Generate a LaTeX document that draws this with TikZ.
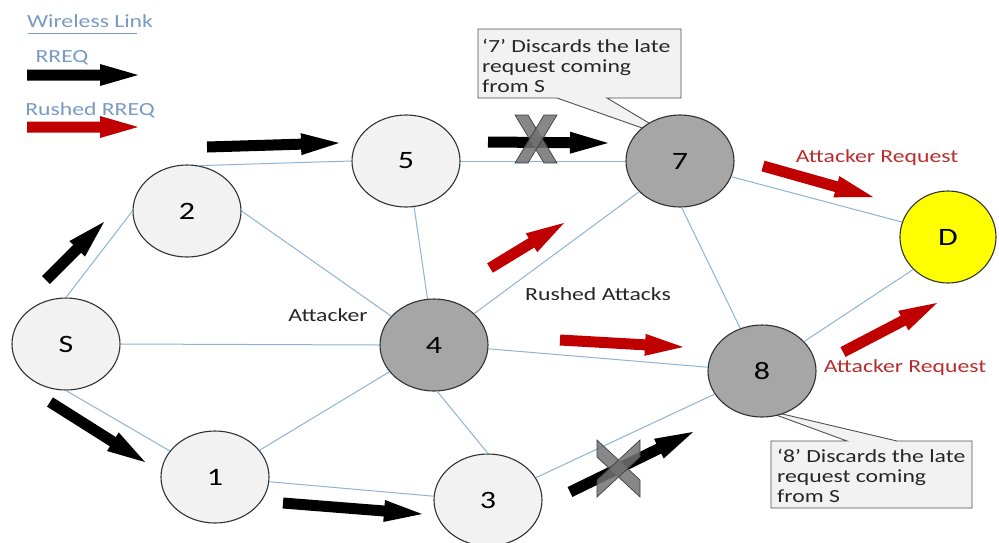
\documentclass[tikz,border=0pt]{standalone}
\usepackage{fontspec}
\setmainfont{Carlito}[FakeStretch=1.28]
\usetikzlibrary{shapes.geometric,calc}

\definecolor{linkc}{RGB}{141,180,214}
\definecolor{legc}{RGB}{120,155,195}
\definecolor{reda}{RGB}{192,0,0}
\definecolor{redt}{RGB}{185,45,45}
\definecolor{lightn}{RGB}{242,242,242}
\definecolor{darkn}{RGB}{166,166,166}
\definecolor{yeln}{RGB}{255,255,0}
\definecolor{nodeline}{RGB}{50,50,50}
\definecolor{callfill}{RGB}{242,242,242}
\definecolor{callline}{RGB}{80,80,80}
\definecolor{xfill}{RGB}{115,115,115}

% block arrow: colour, tail coordinate, tip coordinate
\newcommand\fatarrow[3]{%
  \coordinate (hb) at ($(#3)!38pt!(#2)$);
  \fill[#1] ($(#2)!5.5pt!90:(#3)$) -- ($(hb)!5.5pt!90:(#3)$) --
    ($(hb)!11pt!90:(#3)$) -- (#3) -- ($(hb)!11pt!-90:(#3)$) --
    ($(hb)!5.5pt!-90:(#3)$) -- ($(#2)!5.5pt!-90:(#3)$) -- cycle;
}

\begin{document}
\begin{tikzpicture}[x=1pt,y=-1pt,
  station/.style={ellipse, draw=nodeline, line width=1.1pt,
    minimum width=108pt, minimum height=92pt, inner sep=0pt,
    font=\fontsize{25}{30}\selectfont},
  lightst/.style={station, fill=lightn},
  darkst/.style={station, fill=darkn},
  link/.style={draw=linkc, line width=1pt},
  legtext/.style={text=legc, font=\fontsize{18.5}{22}\selectfont, inner sep=0pt},
  plaintext/.style={text=black!85, font=\fontsize{18.5}{22}\selectfont, inner sep=0pt},
  redtext/.style={text=redt, font=\fontsize{18.5}{22}\selectfont, inner sep=0pt},
  calltext/.style={text=black!85, font=\fontsize{18.5}{20}\selectfont,
    align=left, inner sep=0pt, anchor=north west},
  callout/.style={fill=callfill, draw=callline, line width=0.9pt},
  xbar/.style={fill=xfill, fill opacity=0.85, draw=black!75, line width=0.7pt}]

\useasboundingbox (0,0) rectangle (999,542);
\fill[white] (0,0) rectangle (999,542);

% legend
\node[legtext] (lwl) at (90,21) {Wireless Link};
\coordinate (lla) at (28,33);
\coordinate (llb) at (137,33);
\draw[draw=legc, line width=1pt] (lla) -- (llb);
\node[legtext] (lrq) at (62,58) {RREQ};
\coordinate (lba) at (27,75);
\coordinate (lbb) at (138,75);
\fatarrow{black}{lba}{lbb}
\node[legtext] (lrr) at (90,110) {Rushed RREQ};
\coordinate (lra) at (27,127);
\coordinate (lrb) at (138,127);
\fatarrow{reda}{lra}{lrb}

% callouts (their pointers end under the stations)
\draw[callout] (478,29) -- (681,29) -- (681,98) -- (607,98) -- (679,141)
  -- (557,98) -- (478,98) -- cycle;
\node[calltext] (c7) at (482,39) {‘7’ Discards the late\\request coming\\from S};
\draw[callout] (771,441) -- (847,441) -- (757,408) -- (897,441)
  -- (972,441) -- (972,508) -- (771,508) -- cycle;
\node[calltext] (c8) at (777,449) {‘8’ Discards the late\\request coming\\from S};

% stations
\node[lightst] (S) at (66,344) {S};
\node[lightst] (n2) at (187,211) {2};
\node[lightst] (n5) at (406,161) {5};
\node[darkst]  (n7) at (680,161) {7};
\node[darkst]  (n4) at (434,345) {4};
\node[darkst]  (n8) at (762,371) {8};
\node[lightst] (n1) at (215,477) {1};
\node[lightst] (n3) at (488,500) {3};
\node[station, fill=yeln, minimum width=96pt, minimum height=92pt] (D) at (948,237) {D};

% wireless links
\draw[link] (S.north) -- (n2.west);
\draw[link] (S.south) -- (n1.150);
\draw[link] (S.east) -- (n4.west);
\draw[link] (n2.75) -- (n5.west);
\draw[link] (n2.east) -- (n4.146);
\draw[link] (n5.-80) -- (n4.98);
\draw[link] (n5.east) -- (n7.west);
\draw[link] (n4.38) -- (n7.217);
\draw[link] (n4.-4) -- (n8.176);
\draw[link] (n4.211) -- (n1.31);
\draw[link] (n4.-86) -- (n3.north);
\draw[link] (n1.-5) -- (n3.176);
\draw[link] (n3.25) -- (n8.206);
\draw[link] (n7.-17) -- (D.162);
\draw[link] (n7.-88) -- (n8.117);
\draw[link] (n8.35) -- (D.223);

% labels
\node[plaintext] (lat) at (328,315) {Attacker};
\node[plaintext] (lra2) at (598,294) {Rushed Attacks};
\node[redtext] (lar1) at (877,158) {Attacker Request};
\node[redtext] (lar2) at (905,368) {Attacker Request};

% route requests
\coordinate (a1t) at (46,280);   \coordinate (a1h) at (104,222);
\coordinate (a2t) at (50,402);   \coordinate (a2h) at (145,462);
\coordinate (a3t) at (207,147);  \coordinate (a3h) at (339,143);
\coordinate (a4t) at (488,142);  \coordinate (a4h) at (608,143);
\coordinate (a5t) at (283,503);  \coordinate (a5h) at (422,514);
\coordinate (a6t) at (570,492);  \coordinate (a6h) at (693,432);
\fatarrow{black}{a1t}{a1h}
\fatarrow{black}{a2t}{a2h}
\fatarrow{black}{a3t}{a3h}
\fatarrow{black}{a4t}{a4h}
\fatarrow{black}{a5t}{a5h}
\fatarrow{black}{a6t}{a6h}

% rushed requests
\coordinate (r1t) at (490,268);  \coordinate (r1h) at (564,223);
\coordinate (r2t) at (560,340);  \coordinate (r2h) at (683,347);
\coordinate (r3t) at (763,166);  \coordinate (r3h) at (873,197);
\coordinate (r4t) at (843,352);  \coordinate (r4h) at (937,303);
\fatarrow{reda}{r1t}{r1h}
\fatarrow{reda}{r2t}{r2h}
\fatarrow{reda}{r3t}{r3h}
\fatarrow{reda}{r4t}{r4h}

% discarded requests
\draw[xbar] (515,115) -- (528,115) -- (557,163) -- (544,163) -- cycle;
\draw[xbar] (544,115) -- (557,115) -- (528,163) -- (515,163) -- cycle;
\draw[xbar] (597,440) -- (597,457) -- (640,497) -- (640,480) -- cycle;
\draw[xbar] (640,440) -- (640,457) -- (597,497) -- (597,480) -- cycle;

\end{tikzpicture}
\end{document}
